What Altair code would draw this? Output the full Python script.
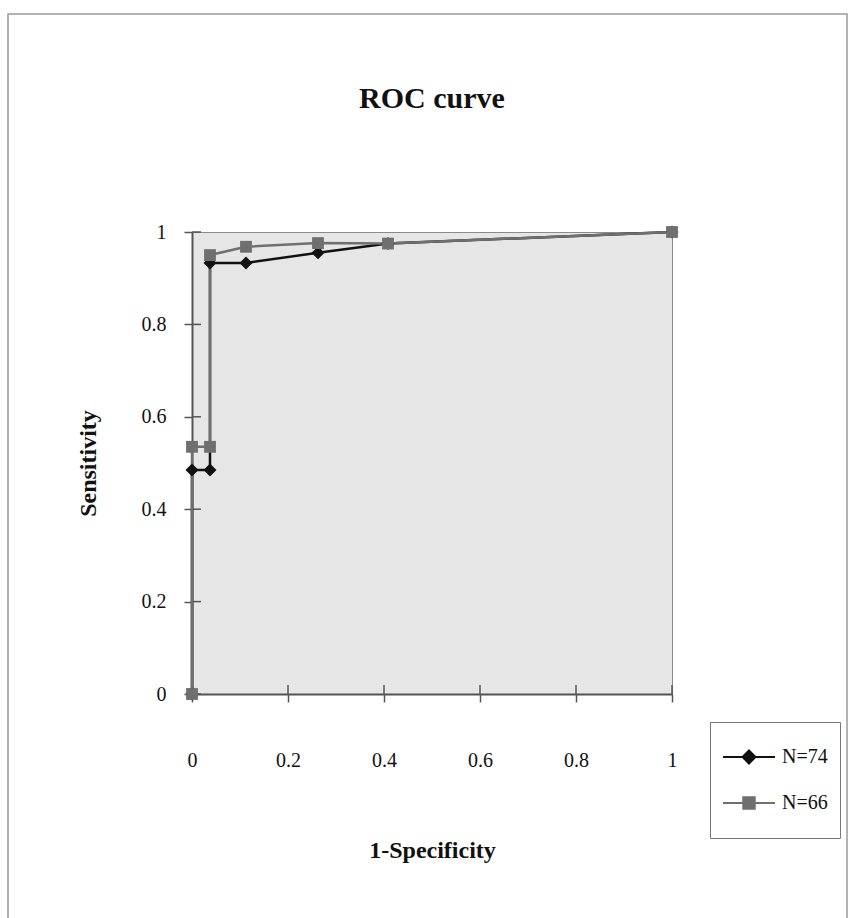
import altair as alt
import pandas as pd

# ---- data ----
series_names = ["N=74", "N=66"]
fpr_74 = [0, 0, 0.0375, 0.0375, 0.1125, 0.2625, 0.4083, 1.0]
tpr_74 = [0, 0.485, 0.485, 0.933, 0.933, 0.955, 0.975, 1.0]
fpr_66 = [0, 0, 0.0375, 0.0375, 0.1125, 0.2625, 0.4083, 1.0]
tpr_66 = [0, 0.535, 0.535, 0.95, 0.968, 0.976, 0.975, 1.0]
tick_vals = [0, 0.2, 0.4, 0.6, 0.8, 1.0]

rows = []
for name, xs, ys in [("N=74", fpr_74, tpr_74), ("N=66", fpr_66, tpr_66)]:
    for i, (a, b) in enumerate(zip(xs, ys)):
        rows.append({"series": name, "x": a, "y": b, "i": i})
df = pd.DataFrame(rows)
ticks_df = pd.DataFrame({"v": tick_vals})

W, H = 480, 462
SERIF = "Liberation Serif"
BLACK = "#111111"
GRAY = "#6f6f6f"

xscale = alt.Scale(domain=[0, 1], nice=False)
yscale = alt.Scale(domain=[0, 1], nice=False)

xaxis = alt.Axis(values=tick_vals, format="~g", title="1-Specificity", grid=False,
                 tickSize=8, labelPadding=48, labelFlush=False,
                 titleY=163, titleBaseline="alphabetic")
yaxis = alt.Axis(values=tick_vals, format="~g", title="Sensitivity", grid=False,
                 tickSize=8, labelPadding=18, labelFlush=False,
                 titleX=-104, titleY=H / 2,
                 titleBaseline="middle", titleAlign="center", titleAngle=270)

base = alt.Chart(df)

# decorative outer frame
frame = alt.Chart(alt.Data(values=[{}])).mark_rect(
    fill=None, stroke="#9a9a9a", strokeWidth=1.5
).encode(x=alt.value(-184), x2=alt.value(655), y=alt.value(-218), y2=alt.value(720))

# inner halves of the crossing ticks
xin = alt.Chart(ticks_df).mark_rule(color="#555555", strokeWidth=1.5).encode(
    x=alt.X("v:Q", scale=xscale, axis=xaxis), y=alt.value(H), y2=alt.value(H - 9))
yin = alt.Chart(ticks_df).mark_rule(color="#555555", strokeWidth=1.5).encode(
    y=alt.Y("v:Q", scale=yscale, axis=yaxis), x=alt.value(0), x2=alt.value(9))

def line_layer(name, color):
    return base.transform_filter(alt.datum.series == name).mark_line(
        color=color, strokeWidth=2.5).encode(
        x=alt.X("x:Q", scale=xscale, axis=xaxis),
        y=alt.Y("y:Q", scale=yscale, axis=yaxis),
        order="i:Q")

def pt_layer(name, color, shape, size):
    return base.transform_filter(alt.datum.series == name).mark_point(
        color=color, filled=True, opacity=1, shape=shape, size=size).encode(
        x=alt.X("x:Q", scale=xscale, axis=xaxis),
        y=alt.Y("y:Q", scale=yscale, axis=yaxis))

path74 = "M-1,0L1,0M0,-0.25L0.25,0L0,0.25L-0.25,0Z"
path66 = "M-1,0L1,0M-0.22,-0.22L0.22,-0.22L0.22,0.22L-0.22,0.22Z"

leg = alt.Legend(title=None, orient="none", legendX=518, legendY=490,
                 padding=12, clipHeight=46, rowPadding=0,
                 symbolSize=2704, symbolStrokeWidth=2, labelOffset=6,
                 labelFont=SERIF, labelFontSize=20, labelColor="#111111",
                 strokeColor="#777777", fillColor="#ffffff")

legend_layer = base.transform_filter("false").mark_point(strokeWidth=2, opacity=1).encode(
    x=alt.X("x:Q", scale=xscale, axis=xaxis),
    y=alt.Y("y:Q", scale=yscale, axis=yaxis),
    shape=alt.Shape("series:N", scale=alt.Scale(domain=series_names, range=[path74, path66]), legend=leg),
    fill=alt.Fill("series:N", scale=alt.Scale(domain=series_names, range=[BLACK, GRAY]), legend=leg),
    stroke=alt.Stroke("series:N", scale=alt.Scale(domain=series_names, range=[BLACK, GRAY]), legend=leg),
)

chart = alt.layer(
    frame, xin, yin,
    line_layer("N=74", BLACK), line_layer("N=66", GRAY),
    pt_layer("N=74", BLACK, "diamond", 170), pt_layer("N=66", GRAY, "square", 140),
    legend_layer,
).properties(
    width=W, height=H,
    padding={"left": 192, "top": 232, "right": 177, "bottom": 224},
    autosize=alt.AutoSizeParams(type="none"),
    background="#ffffff",
    title=alt.TitleParams("ROC curve", font=SERIF, fontSize=30, fontWeight="bold",
                          color="#111111", offset=-125, anchor="middle",
                          baseline="alphabetic", frame="group"),
).configure_view(
    fill="#e6e6e6", stroke="#8a8a8a", strokeWidth=1
).configure_axis(
    domainColor="#555555", domainWidth=2, tickColor="#555555", tickWidth=1.5,
    labelFont=SERIF, labelFontSize=20, labelColor="#111111",
    titleFont=SERIF, titleFontSize=24, titleFontWeight="bold", titleColor="#111111",
)

chart.save("out.html", embed_options={"renderer": "svg", "actions": False})
